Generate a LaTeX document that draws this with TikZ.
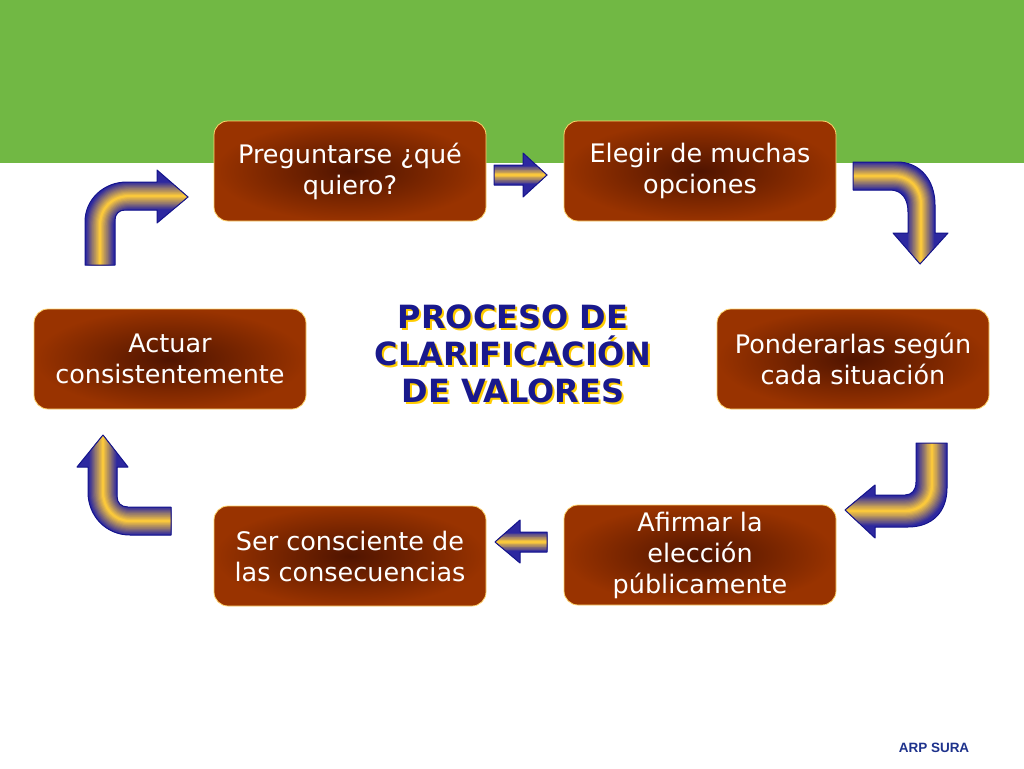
\documentclass[tikz,border=0pt]{standalone}
\usepackage{fontspec}
\setmainfont{DejaVu Sans}
\newfontfamily\marcafont{Liberation Sans}
\definecolor{bandgreen}{RGB}{113,184,68}
\definecolor{boxbrown}{RGB}{153,51,0}
\definecolor{boxdark}{RGB}{80,20,0}
\definecolor{boxedge}{RGB}{255,214,110}
\definecolor{arrowblue}{RGB}{45,40,160}
\definecolor{arrowgold}{RGB}{250,200,60}
\definecolor{arrowedge}{RGB}{20,20,140}
\definecolor{titleblue}{RGB}{25,25,140}
\definecolor{titleshadow}{RGB}{255,204,0}
\definecolor{marcablue}{RGB}{30,50,140}
\tikzset{
  paso/.style={draw=boxedge,line width=0.8pt,rounded corners=14pt,
    shading=radial,inner color=boxdark,outer color=boxbrown,
    minimum width=272pt,minimum height=100pt,align=center,text=white,
    font=\fontsize{25.5}{31}\selectfont},
  titulo/.style={align=center,font=\fontsize{32}{37}\selectfont\bfseries},
  arrowline/.style={draw=arrowedge,line width=1pt,line join=round}
}
% block arrow: #1 outline, #2 centre line, #3 body width
\newcommand{\shadedarrow}[3]{%
  \begin{scope}
    \clip #1;
    \fill[arrowblue] (0,0) rectangle (1024,768);
    \foreach \k in {0,...,12}{
      \pgfmathtruncatemacro\pct{100*\k/12}
      \draw[line width={(#3-#3*\k/13)*1pt},color=arrowgold!\pct!arrowblue] #2;}
  \end{scope}
  \draw[arrowline] #1;}
\begin{document}
\begin{tikzpicture}[x=1pt,y=-1pt]
\useasboundingbox (0,0) rectangle (1024,768);
\fill[white] (0,0) rectangle (1024,768);
\fill[bandgreen] (0,0) rectangle (1024,163);
% steps
\node[paso] (pregunta) at (350,171) {Preguntarse ¿qué\\quiero?};
\node[paso] (elegir) at (700,171) {Elegir de muchas\\opciones};
\node[paso] (ponderar) at (853,359) {Ponderarlas según\\cada situación};
\node[paso] (afirmar) at (700,555) {Afirmar la\\elección\\públicamente};
\node[paso] (ser) at (350,556) {Ser consciente de\\las consecuencias};
\node[paso] (actuar) at (170,359) {Actuar\\consistentemente};
% title
\node[titulo,text=titleshadow] (titulosombra) at (515,356) {PROCESO DE\\CLARIFICACIÓN\\DE VALORES};
\node[titulo,text=titleblue] (titulo) at (513,354) {PROCESO DE\\CLARIFICACIÓN\\DE VALORES};
% arrows
\shadedarrow{(494,165) -- (523,165) -- (523,153) -- (547,175) -- (523,197) -- (523,185) -- (494,185) -- cycle}{(490,175) -- (550,175)}{20}
\shadedarrow{(853,162) -- (897,162) .. controls (920,162) and (935,180) .. (935,205) -- (935,233) -- (948,233) -- (920,264) -- (893,233) -- (908,233) -- (908,212) .. controls (908,199) and (902,190) .. (890,190) -- (853,190) -- cycle}{(850,176) -- (893,176) .. controls (910,176) and (921,188) .. (921,205) -- (921,266)}{28}
\shadedarrow{(916,443) -- (947,443) -- (947,488) .. controls (947,512) and (932,527) .. (908,527) -- (875,527) -- (875,538) -- (845,510) -- (875,485) -- (875,495) -- (905,495) .. controls (912,495) and (916,490) .. (916,482) -- cycle}{(932,440) -- (932,485) .. controls (932,500) and (920,511) .. (905,511) -- (843,511)}{31}
\shadedarrow{(547,532) -- (520,532) -- (520,520) -- (495,542) -- (520,563) -- (520,552) -- (547,552) -- cycle}{(550,542) -- (493,542)}{20}
\shadedarrow{(171,507) -- (171,535) -- (130,535) .. controls (106,535) and (88,516) .. (88,492) -- (88,467) -- (77,467) -- (103,435) -- (128,467) -- (117,467) -- (117,496) .. controls (117,503) and (121,507) .. (128,507) -- cycle}{(175,521) -- (130,521) .. controls (114,521) and (103,508) .. (103,492) -- (103,433)}{29}
\shadedarrow{(85,265) -- (85,222) .. controls (85,199) and (104,182) .. (127,182) -- (157,182) -- (157,170) -- (188,197) -- (157,223) -- (157,210) -- (125,210) .. controls (119,210) and (115,214) .. (115,220) -- (115,265) -- cycle}{(100,270) -- (100,226) .. controls (100,208) and (112,196) .. (130,196) -- (190,196)}{29}
\node[font=\marcafont\fontsize{13.5}{16}\selectfont\bfseries,text=marcablue] (marca) at (934,748) {ARP SURA};
\end{tikzpicture}
\end{document}
